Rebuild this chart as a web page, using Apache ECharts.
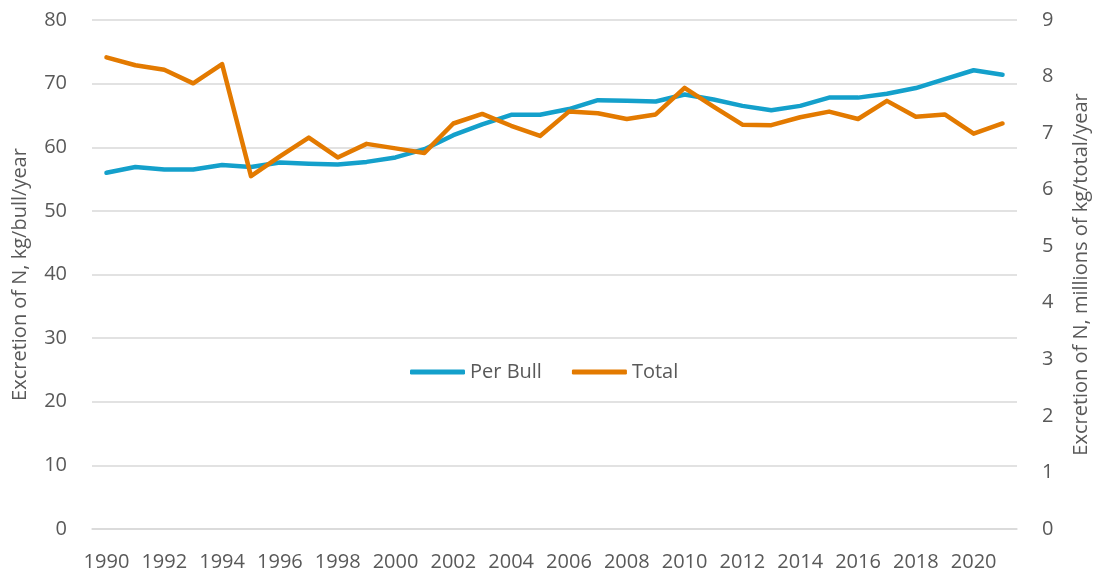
<!DOCTYPE html>
<html>
<head>
<meta charset="utf-8">
<script src="https://cdn.jsdelivr.net/npm/echarts@6/dist/echarts.min.js"></script>
<style>
  html, body { margin: 0; padding: 0; background: #fff; }
  #chart { width: 1101px; height: 580px; }
</style>
</head>
<body>
<div id="chart"></div>
<script>
  // years on the x axis
  var years = [];
  for (var y = 1990; y <= 2021; y++) years.push(String(y));

  // kg N per bull per year (left axis)
  var perBull = [56.0, 56.9, 56.5, 56.5, 57.2, 56.9, 57.6, 57.4, 57.3, 57.7,
                 58.4, 59.7, 61.9, 63.6, 65.1, 65.1, 66.0, 67.4, 67.3, 67.2,
                 68.3, 67.5, 66.5, 65.8, 66.5, 67.8, 67.8, 68.4, 69.3, 70.7,
                 72.1, 71.4];

  // millions of kg N total per year (right axis)
  var total = [8.34, 8.20, 8.12, 7.88, 8.22, 6.24, 6.59, 6.92, 6.57, 6.81,
               6.73, 6.65, 7.17, 7.34, 7.13, 6.95, 7.38, 7.35, 7.25, 7.33,
               7.80, 7.47, 7.15, 7.14, 7.28, 7.38, 7.25, 7.57, 7.29, 7.33,
               6.99, 7.17];

  var textColor = '#595959';
  var font = '"Open Sans", "Noto Sans", sans-serif';
  var fs = 20;

  var myChart = echarts.init(document.getElementById('chart'));
  var option = {
    animation: false,
    textStyle: { fontFamily: font, color: textColor },
    grid: { left: 92, right: 84, top: 20, bottom: 51 },
    legend: {
      left: 405, top: 357,
      icon: 'roundRect',
      itemWidth: 55, itemHeight: 5,
      itemGap: 30,
      textStyle: { fontSize: fs, color: textColor, fontFamily: font },
      data: ['Per Bull', 'Total']
    },
    xAxis: {
      type: 'category',
      data: years,
      boundaryGap: true,
      axisLine: { show: true, lineStyle: { color: '#d9d9d9', width: 1.5 } },
      axisTick: { show: false },
      axisLabel: { interval: 1, fontSize: fs, color: textColor, margin: 23, fontFamily: font }
    },
    yAxis: [{
      type: 'value',
      min: 0, max: 80, interval: 10,
      name: 'Excretion of N, kg/bull/year',
      nameLocation: 'middle',
      nameGap: 62,
      nameTextStyle: { fontSize: fs, color: textColor, fontFamily: font },
      axisLine: { show: false },
      axisTick: { show: false },
      axisLabel: { fontSize: fs, color: textColor, margin: 25, fontFamily: font },
      splitLine: { lineStyle: { color: '#d9d9d9', width: 1.5 } }
    }, {
      type: 'value',
      min: 0, max: 9, interval: 1,
      name: 'Excretion of N, millions of kg/total/year',
      nameLocation: 'middle',
      nameGap: 54,
      nameRotate: 90,
      nameTextStyle: { fontSize: fs, color: textColor, fontFamily: font },
      axisLine: { show: false },
      axisTick: { show: false },
      axisLabel: { fontSize: fs, color: textColor, margin: 25, fontFamily: font },
      splitLine: { show: false }
    }],
    series: [{
      name: 'Per Bull',
      type: 'line',
      yAxisIndex: 0,
      data: perBull,
      symbol: 'none',
      color: '#14A0CB',
      lineStyle: { width: 4.5, cap: 'round', join: 'round' }
    }, {
      name: 'Total',
      type: 'line',
      yAxisIndex: 1,
      data: total,
      symbol: 'none',
      color: '#E37A00',
      lineStyle: { width: 4.5, cap: 'round', join: 'round' }
    }]
  };
  myChart.setOption(option);
</script>
</body>
</html>
